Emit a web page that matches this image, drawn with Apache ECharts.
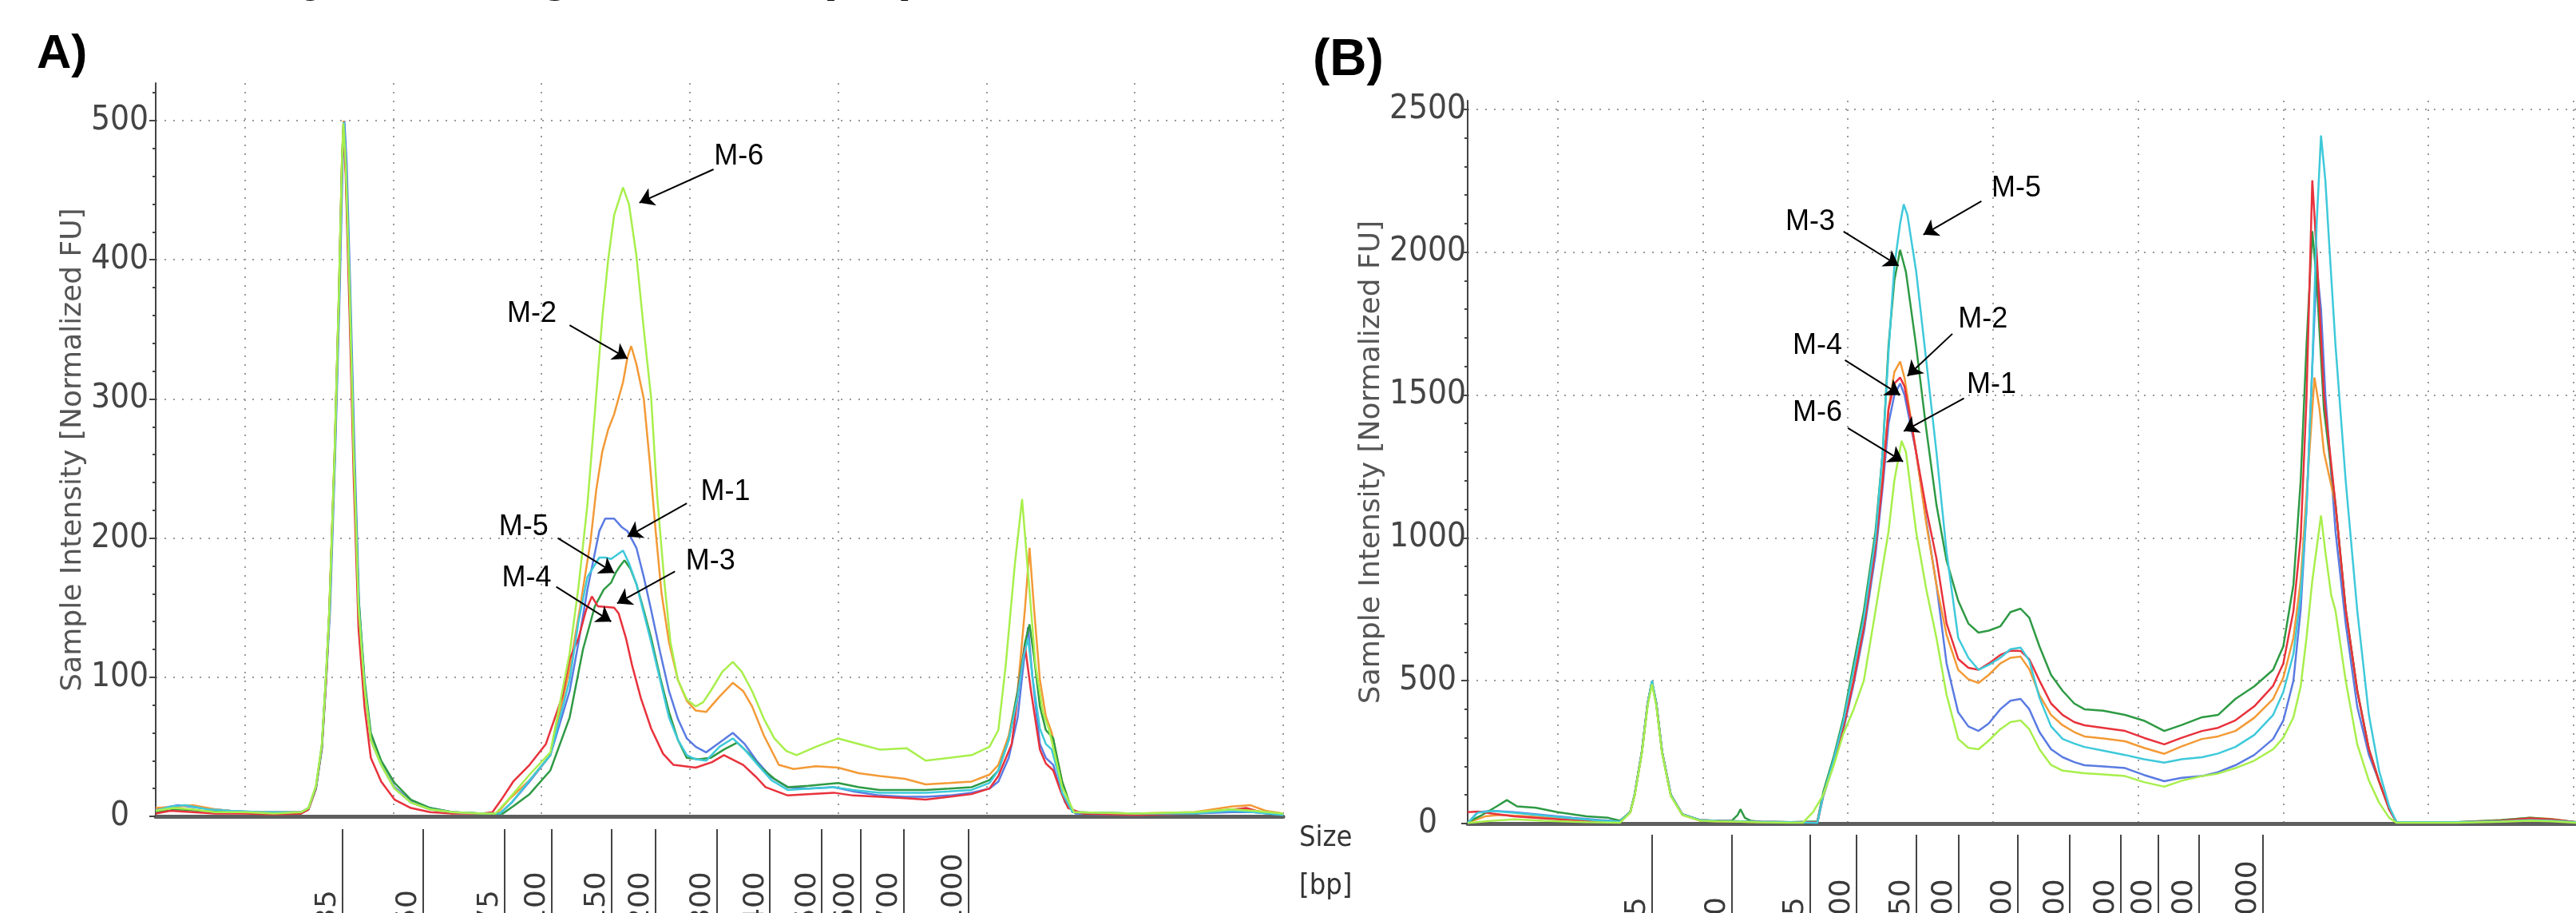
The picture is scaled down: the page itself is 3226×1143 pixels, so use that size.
<!DOCTYPE html>
<html>
<head>
<meta charset="utf-8">
<script src="https://cdn.jsdelivr.net/npm/echarts@6.0.0/dist/echarts.min.js"></script>
<style>
  html, body { margin: 0; padding: 0; background: #fff; }
  #main { width: 3226px; height: 1143px; }
</style>
</head>
<body>
<div id="main"></div>
<script>
// sample names, same order in both panels
const sampleNames = ['M-1', 'M-2', 'M-3', 'M-4', 'M-5', 'M-6']

// ladder (size standard) positions on the time axis and their sizes in bp
const ladderSizes = ['35', '50', '75', '100', '150', '200', '300', '400', '500', '600', '700', '1000']
const ladderA = [26.6, 32.0, 37.5, 40.7, 44.7, 47.7, 51.8, 55.4, 58.9, 61.5, 64.4, 68.8]
const ladderB = [26.5, 32.0, 37.4, 40.6, 44.7, 47.6, 51.7, 55.3, 58.8, 61.4, 64.2, 68.6]

// grid ticks
const timeTicks = [20, 30, 40, 50, 60, 70, 80, 90]
const yTicksA = [0, 100, 200, 300, 400, 500]
const yMinorA = [20, 40, 60, 80, 120, 140, 160, 180, 220, 240, 260, 280, 320, 340, 360, 380, 420, 440, 460, 480, 520]
const yTicksB = [0, 500, 1000, 1500, 2000, 2500]
const yMinorB = [100, 200, 300, 400, 600, 700, 800, 900, 1100, 1200, 1300, 1400, 1600, 1700, 1800, 1900, 2100, 2200, 2300, 2400]

// panel A traces [time, FU]
const m1A = [[14, 5], [15.5, 8], [17, 6], [19, 4], [21, 3], [23.8, 3], [24.3, 6], [24.8, 20], [25.2, 48], [25.5, 100], [25.75, 148], [26.1, 262], [26.4, 377], [26.6, 470], [26.72, 500], [26.87, 470], [27.12, 377], [27.4, 262], [27.72, 150], [28.1, 92], [28.5, 56], [29.2, 38], [30.1, 21], [31.2, 11], [32.5, 6], [34, 3], [36, 2],
  [37.2, 2], [38, 10], [39.2, 25], [40.6, 44], [41.9, 90], [42.5, 125], [43.1, 163], [43.9, 205], [44.3, 214], [44.9, 214], [45.4, 208], [45.8, 205], [46.4, 193], [46.9, 172], [47.4, 148], [48.0, 118], [48.6, 90], [49.2, 70], [49.8, 56], [50.4, 50], [51.1, 46], [52.0, 53], [52.9, 60], [53.7, 52], [54.5, 40], [55.5, 28], [56.6, 21], [58, 20], [59.7, 21], [61, 18], [62.8, 15], [64.5, 14], [65.9, 14], [67.5, 15], [69.0, 17], [70.2, 20], [70.8, 25], [71.5, 42], [72.1, 71], [72.5, 110], [72.8, 136], [73.1, 100], [73.6, 52], [74.0, 42], [74.5, 37], [74.9, 22], [75.3, 10], [76, 2], [80, 1], [84, 2], [86.5, 3], [88, 3], [90, 1]]
const m2A = [[14, 6], [15.5, 7], [16.5, 8], [18, 5], [20, 3], [22, 3], [23.8, 3], [24.3, 6], [24.8, 21], [25.2, 50], [25.5, 104], [25.7, 148], [26.06, 262], [26.35, 377], [26.55, 470], [26.66, 500], [26.8, 470], [27.07, 377], [27.34, 262], [27.67, 150], [28.08, 92], [28.5, 55], [29.2, 37], [30.1, 20], [31.2, 10], [32.5, 5], [34, 3], [36, 2],
  [37, 2], [37.8, 12], [39.2, 26], [40.6, 44], [41.9, 106], [42.6, 150], [43.3, 197], [43.7, 235], [44.1, 262], [44.5, 278], [44.9, 289], [45.5, 312], [45.8, 330], [46.05, 338], [46.4, 325], [46.9, 300], [47.3, 255], [47.7, 205], [48.1, 160], [48.6, 125], [49.2, 98], [49.8, 83], [50.4, 76], [51.1, 75], [52.0, 86], [52.9, 96], [53.6, 90], [54.2, 79], [55.0, 58], [56.0, 37], [57, 34], [58.5, 36], [60.0, 35], [61.4, 31], [62.8, 29], [64.5, 27], [65.9, 23], [67.5, 24], [69.0, 25], [70.2, 30], [70.8, 37], [71.5, 58], [72.1, 90], [72.6, 150], [72.9, 193], [73.2, 150], [73.6, 98], [74.0, 72], [74.4, 60], [74.8, 40], [75.1, 25], [75.8, 3], [80, 2], [84, 3], [86.5, 7], [87.8, 8], [88.8, 4], [90, 2]]
const m3A = [[14, 3], [15.5, 5], [17, 4], [19, 3], [21, 2], [23.8, 2], [24.3, 5], [24.8, 20], [25.2, 50], [25.5, 103], [25.7, 146], [26.06, 260], [26.35, 375], [26.55, 468], [26.65, 497], [26.8, 470], [27.07, 380], [27.34, 268], [27.67, 158], [28.08, 98], [28.5, 60], [29.2, 40], [30.1, 24], [31.2, 12], [32.5, 6], [34, 3], [36, 2],
  [37.4, 2], [38.2, 8], [39.2, 16], [40.6, 33], [41.9, 71], [42.8, 120], [43.6, 151], [44.2, 163], [44.7, 168], [45.0, 175], [45.3, 180], [45.6, 184], [46.0, 178], [46.4, 167], [46.9, 148], [47.4, 128], [48.0, 100], [48.6, 75], [49.2, 55], [49.8, 42], [50.6, 41], [51.4, 42], [52.3, 48], [53.2, 53], [54.0, 45], [54.8, 35], [55.7, 27], [56.6, 21], [58, 22], [60, 24], [61.4, 21], [62.8, 19], [64.5, 19], [65.9, 19], [67.5, 20], [69.0, 21], [70.2, 26], [70.8, 33], [71.5, 55], [72.1, 90], [72.6, 125], [72.9, 138], [73.2, 115], [73.6, 79], [74.0, 62], [74.5, 56], [74.8, 40], [75.1, 25], [75.8, 3], [80, 2], [84, 2], [86.5, 5], [88, 4], [90, 1]]
const m4A = [[14, 2], [15, 4], [16.5, 3], [18, 2], [20, 2], [22, 1.5], [23.8, 2], [24.3, 5], [24.8, 20], [25.2, 50], [25.5, 100], [25.7, 145], [26.06, 258], [26.35, 372], [26.55, 465], [26.65, 493], [26.8, 462], [27.07, 360], [27.34, 245], [27.67, 135], [28.08, 78], [28.5, 42], [29.2, 25], [30.1, 12], [31.2, 6], [32.5, 3], [34, 2], [36, 2],
  [36.7, 3], [37.3, 12], [38.1, 25], [39.2, 37], [40.3, 52], [41.4, 86], [41.9, 113], [42.5, 128], [43.0, 148], [43.4, 158], [43.8, 151], [44.9, 150], [45.2, 146], [45.7, 128], [46.1, 109], [46.7, 85], [47.4, 63], [48.2, 45], [48.9, 37], [50.4, 35], [51.5, 39], [52.3, 44], [53.6, 37], [54.5, 28], [55.1, 21], [56.6, 15], [58, 16], [59.7, 17], [61, 15], [62.8, 14], [64.5, 13], [65.9, 12], [67.5, 14], [69.0, 16], [70.2, 20], [70.8, 29], [71.7, 52], [72.2, 95], [72.6, 122], [73.0, 90], [73.6, 48], [74.0, 38], [74.5, 33], [75.0, 18], [75.5, 6], [76.5, 2], [80, 1], [84, 2], [86, 4], [87.5, 6], [88.5, 3], [90, 2]]
const m5A = [[14, 4], [15, 7], [16, 8], [17.5, 5], [19, 4], [21, 3], [23.8, 3], [24.3, 6], [24.8, 21], [25.2, 51], [25.5, 104], [25.72, 148], [26.08, 262], [26.37, 377], [26.57, 470], [26.68, 499], [26.82, 470], [27.09, 377], [27.36, 262], [27.69, 150], [28.1, 92], [28.5, 55], [29.2, 37], [30.1, 20], [31.2, 10], [32.5, 5], [34, 3], [36, 2],
  [37.2, 2], [38, 10], [39.2, 26], [40.6, 44], [41.9, 98], [42.5, 140], [43.1, 172], [43.9, 186], [44.3, 186], [44.7, 185], [45.1, 188], [45.5, 191], [45.9, 182], [46.4, 167], [46.9, 146], [47.4, 125], [48.0, 98], [48.6, 71], [49.2, 55], [49.8, 44], [50.4, 41], [51.1, 40], [52.0, 50], [52.9, 56], [53.7, 48], [54.5, 38], [55.5, 26], [56.6, 19], [58, 20], [59.7, 21], [61, 19], [62.8, 17], [64.5, 17], [65.9, 17], [67.5, 18], [69.0, 19], [70.2, 24], [70.8, 33], [71.5, 55], [72.1, 86], [72.5, 115], [72.8, 128], [73.1, 100], [73.6, 63], [74.0, 52], [74.4, 48], [74.8, 32], [75.1, 17], [75.8, 3], [80, 2], [84, 2], [86.5, 4], [88, 3], [90, 1]]
const m6A = [[14, 4], [15.2, 6], [16.5, 5], [18, 3], [20, 3], [22, 2], [23.8, 3], [24.3, 6], [24.8, 22], [25.2, 52], [25.5, 105], [25.7, 148], [26.06, 262], [26.35, 377], [26.55, 470], [26.65, 498], [26.8, 470], [27.07, 377], [27.34, 262], [27.67, 150], [28.08, 92], [28.5, 55], [29.2, 37], [30.1, 20], [31.2, 10], [32.5, 5], [34, 3], [36, 2],
  [36.9, 2], [37.6, 10], [39.2, 30], [40.6, 46], [41.9, 117], [42.5, 165], [43.1, 224], [43.6, 290], [44.1, 358], [44.5, 400], [44.9, 432], [45.5, 452], [45.9, 440], [46.4, 403], [46.9, 350], [47.4, 300], [47.8, 230], [48.3, 167], [48.7, 125], [49.2, 98], [49.8, 84], [50.4, 79], [50.9, 82], [51.4, 90], [52.2, 104], [52.9, 111], [53.5, 104], [54.2, 90], [55.0, 70], [55.7, 56], [56.5, 47], [57.2, 44], [58.5, 50], [60.0, 56], [61.4, 52], [62.8, 48], [64.6, 49], [65.9, 40], [67.5, 42], [69.0, 44], [70.2, 50], [70.8, 62], [71.3, 109], [71.9, 180], [72.4, 228], [72.8, 175], [73.3, 109], [73.8, 75], [74.2, 63], [74.7, 40], [75.1, 21], [75.9, 3], [80, 2], [84, 3], [86.5, 5], [88, 4], [90, 2]]

// panel B traces [time, FU]
const m1B = [[13.8, 2], [14.5, 40], [15.5, 45], [17, 40], [19, 30], [21, 20], [23, 12], [24.3, 8], [25.0, 40], [25.3, 100], [25.8, 250], [26.2, 420], [26.5, 497], [26.8, 420], [27.2, 250], [27.8, 100], [28.6, 32], [29.8, 12], [31, 10], [32.6, 8], [34, 6], [36, 5],
  [37.9, 3], [38.3, 95], [39.0, 205], [39.7, 330], [40.4, 490], [41.1, 670], [41.9, 940], [42.4, 1180], [42.8, 1400], [43.2, 1500], [43.6, 1540], [43.9, 1500], [44.3, 1400], [44.7, 1300], [45.4, 1060], [46.1, 836], [46.8, 560], [47.6, 389], [48.3, 340], [49.0, 324], [49.7, 350], [50.5, 400], [51.2, 430], [51.9, 436], [52.5, 400], [53.2, 320], [54.0, 260], [54.8, 232], [55.6, 215], [56.3, 204], [57.6, 200], [59.1, 194], [60.4, 170], [61.8, 148], [63.0, 160], [64.4, 166], [65.5, 180], [66.7, 204], [68.0, 240], [69.3, 296], [70.0, 360], [70.7, 500], [71.2, 750], [71.6, 1100], [72.0, 1600], [72.3, 1952], [72.6, 1800], [72.9, 1500], [73.6, 1022], [74.3, 700], [75.1, 408], [75.9, 240], [76.6, 148], [77.3, 50], [77.8, 5], [82, 4], [85, 8], [87, 12], [88.5, 10], [90.2, 4]]
const m2B = [[13.8, 3], [15, 25], [16, 30], [18, 25], [20, 18], [22, 10], [24.3, 5], [25.0, 38], [25.3, 98], [25.8, 248], [26.2, 418], [26.5, 495], [26.8, 418], [27.2, 248], [27.8, 98], [28.6, 30], [29.8, 10], [31, 8], [32.6, 6], [34, 5], [36, 4],
  [37.9, 5], [38.3, 100], [39.0, 215], [39.7, 345], [40.4, 505], [41.1, 690], [41.9, 970], [42.4, 1220], [42.8, 1451], [43.2, 1580], [43.6, 1617], [43.9, 1560], [44.3, 1430], [44.7, 1300], [45.4, 1050], [46.1, 836], [46.8, 660], [47.6, 538], [48.3, 505], [49.0, 492], [49.7, 520], [50.5, 560], [51.2, 580], [51.9, 584], [52.5, 540], [53.2, 450], [54.0, 380], [54.8, 344], [55.6, 320], [56.3, 305], [57.6, 298], [59.1, 288], [60.4, 265], [61.8, 244], [63.0, 270], [64.4, 296], [65.5, 305], [66.7, 324], [68.0, 370], [69.3, 436], [70.0, 510], [70.7, 650], [71.2, 850], [71.6, 1150], [72.15, 1561], [72.5, 1450], [72.8, 1300], [73.6, 1116], [74.3, 750], [75.1, 464], [75.9, 260], [76.6, 148], [77.3, 50], [77.8, 5], [82, 5], [85, 12], [87, 20], [88.5, 16], [90.2, 5]]
const m3B = [[13.8, 5], [14.8, 30], [15.8, 60], [16.5, 82], [17.2, 60], [18.5, 55], [20, 40], [22, 25], [23.5, 20], [24.3, 10], [25.0, 40], [25.3, 100], [25.8, 250], [26.2, 420], [26.5, 496], [26.8, 420], [27.2, 250], [27.8, 100], [28.6, 32], [29.8, 12], [31, 10], [32.0, 10], [32.4, 30], [32.6, 50], [32.9, 20], [33.3, 10], [34, 6], [36, 5],
  [37.9, 8], [38.3, 110], [39.0, 230], [39.7, 372], [40.4, 560], [41.1, 744], [41.9, 1022], [42.4, 1300], [42.8, 1672], [43.2, 1900], [43.6, 2008], [44.0, 1930], [44.7, 1672], [45.4, 1380], [46.1, 1116], [46.8, 920], [47.6, 780], [48.3, 700], [49.0, 668], [49.7, 675], [50.5, 690], [51.2, 740], [51.9, 752], [52.5, 720], [53.2, 620], [54.0, 520], [54.8, 464], [55.6, 420], [56.3, 400], [57.6, 395], [59.1, 380], [60.4, 360], [61.8, 324], [63.0, 345], [64.4, 372], [65.5, 380], [66.7, 436], [68.0, 480], [69.3, 538], [70.0, 620], [70.7, 836], [71.2, 1200], [71.6, 1672], [72.0, 2073], [72.3, 1900], [72.8, 1450], [73.6, 1116], [74.3, 750], [75.1, 464], [75.9, 260], [76.6, 148], [77.3, 50], [77.8, 5], [82, 5], [85, 12], [87, 20], [88.5, 15], [90.2, 5]]
const m4B = [[13.8, 40], [14.5, 42], [15.5, 35], [17, 25], [19, 18], [21, 12], [23, 8], [24.3, 6], [25.0, 40], [25.3, 100], [25.8, 250], [26.2, 420], [26.5, 495], [26.8, 420], [27.2, 250], [27.8, 100], [28.6, 32], [29.8, 12], [31, 10], [32.6, 8], [34, 6], [36, 5],
  [37.9, 5], [38.3, 100], [39.0, 210], [39.7, 340], [40.4, 500], [41.1, 688], [41.9, 967], [42.4, 1200], [42.8, 1451], [43.2, 1540], [43.6, 1561], [43.9, 1530], [44.3, 1420], [44.7, 1300], [45.4, 1100], [46.1, 928], [46.8, 700], [47.6, 576], [48.3, 545], [49.0, 538], [49.7, 560], [50.5, 590], [51.2, 605], [51.9, 604], [52.5, 575], [53.2, 500], [54.0, 420], [54.8, 380], [55.6, 355], [56.3, 344], [57.6, 335], [59.1, 324], [60.4, 300], [61.8, 277], [63.0, 300], [64.4, 324], [65.5, 335], [66.7, 361], [68.0, 410], [69.3, 482], [70.0, 560], [70.7, 744], [71.2, 1000], [71.6, 1488], [72.0, 2251], [72.3, 2000], [72.8, 1500], [73.6, 1116], [74.3, 750], [75.1, 464], [75.9, 260], [76.6, 148], [77.3, 50], [77.8, 5], [82, 4], [85, 10], [87, 18], [88.5, 14], [90.2, 5]]
const m5B = [[13.8, 2], [14.5, 38], [15.5, 44], [17, 38], [19, 28], [21, 18], [23, 10], [24.3, 7], [25.0, 40], [25.3, 100], [25.8, 250], [26.2, 420], [26.5, 500], [26.8, 420], [27.2, 250], [27.8, 100], [28.6, 32], [29.8, 12], [31, 10], [32.6, 8], [34, 6], [36, 5],
  [37.9, 3], [38.3, 100], [39.0, 220], [39.7, 360], [40.4, 540], [41.1, 720], [41.9, 1000], [42.4, 1300], [42.8, 1650], [43.2, 1950], [43.6, 2100], [43.85, 2167], [44.1, 2130], [44.7, 1934], [45.4, 1620], [46.1, 1300], [46.8, 950], [47.6, 650], [48.3, 580], [49.0, 538], [49.7, 555], [50.5, 580], [51.2, 610], [51.9, 616], [52.5, 570], [53.2, 440], [54.0, 340], [54.8, 296], [55.6, 280], [56.3, 268], [57.6, 255], [59.1, 240], [60.4, 225], [61.8, 213], [63.0, 225], [64.4, 232], [65.5, 245], [66.7, 268], [68.0, 310], [69.3, 380], [70.0, 460], [70.7, 594], [71.2, 800], [71.6, 1100], [72.0, 1600], [72.3, 2100], [72.6, 2408], [72.9, 2250], [73.2, 2000], [73.6, 1672], [74.3, 1200], [75.1, 744], [75.9, 380], [76.6, 185], [77.3, 60], [77.8, 5], [82, 5], [85, 8], [87, 12], [88.5, 10], [90.2, 5]]
const m6B = [[13.8, 2], [15.5, 10], [17, 15], [19, 10], [22, 5], [24.3, 3], [25.0, 38], [25.3, 96], [25.8, 245], [26.2, 412], [26.5, 488], [26.8, 412], [27.2, 245], [27.8, 96], [28.6, 30], [29.8, 10], [31, 8], [32.6, 6], [34, 4], [36, 3],
  [36.9, 3], [37.6, 40], [38.3, 100], [39.0, 200], [39.7, 316], [40.4, 400], [41.1, 500], [41.9, 744], [42.4, 900], [42.8, 1022], [43.2, 1200], [43.7, 1339], [44.0, 1300], [44.7, 1022], [45.4, 820], [46.1, 650], [46.8, 450], [47.6, 296], [48.3, 265], [49.0, 260], [49.7, 290], [50.5, 330], [51.2, 355], [51.9, 361], [52.5, 330], [53.2, 260], [54.0, 205], [54.8, 185], [55.6, 180], [56.3, 176], [57.6, 172], [59.1, 166], [60.4, 145], [61.8, 129], [63.0, 150], [64.4, 166], [65.5, 175], [66.7, 194], [68.0, 220], [69.3, 260], [70.0, 300], [70.7, 372], [71.2, 480], [71.6, 650], [72.0, 850], [72.6, 1078], [72.9, 950], [73.3, 800], [73.6, 744], [74.3, 500], [75.1, 277], [75.9, 150], [76.6, 73], [77.3, 20], [77.8, 3], [82, 3], [85, 6], [87, 10], [88.5, 8], [90.2, 3]]

// peak call-outs: label centre, arrow start, arrow tip (time, FU)
const notesA = [
  { name: 'M-6', text: [53.3, 474], from: [51.6, 465], to: [46.6, 441] },
  { name: 'M-2', text: [39.35, 361], from: [41.9, 353], to: [45.8, 329] },
  { name: 'M-5', text: [38.8, 208], from: [41.1, 200], to: [44.9, 175] },
  { name: 'M-4', text: [39.0, 171], from: [41.0, 165], to: [44.7, 140] },
  { name: 'M-1', text: [52.4, 233], from: [49.8, 225], to: [45.8, 201] },
  { name: 'M-3', text: [51.4, 183], from: [49.0, 176], to: [45.1, 153] }
]
const notesB = [
  { name: 'M-3', text: [37.4, 2106], from: [39.7, 2072], to: [43.5, 1952] },
  { name: 'M-5', text: [51.6, 2223], from: [49.2, 2178], to: [45.2, 2061] },
  { name: 'M-2', text: [49.3, 1764], from: [47.2, 1714], to: [44.1, 1566] },
  { name: 'M-4', text: [37.9, 1672], from: [39.8, 1622], to: [43.6, 1500] },
  { name: 'M-1', text: [49.9, 1535], from: [48.0, 1488], to: [43.85, 1373] },
  { name: 'M-6', text: [37.9, 1437], from: [40.0, 1384], to: [43.8, 1267] }
]

const sampleColors = ['#5a7be2', '#f39a36', '#2e9a44', '#e8323c', '#3ec9da', '#a8ef4c']
const narrowFont = '"Liberation Sans Narrow", "DejaVu Sans Condensed", "Liberation Sans", sans-serif'
const gridDots = { type: [2, 9], color: '#9a9a9a', width: 2 }

function ladderLabel(list) {
  return function(v) {
    let best = 0
    for (let i = 0; i < list.length; i++) {
      if (Math.abs(list[i] - v) < Math.abs(list[best] - v)) best = i
    }
    return ladderSizes[best]
  }
}

function timeAxes(grid, min, max, ladder, ladderOffset) {
  return [
    {
      gridIndex: grid, type: 'value', min: min, max: max,
      axisLine: { onZero: false, lineStyle: { color: '#5e5e5e', width: 5 } },
      axisTick: { show: false, customValues: timeTicks },
      axisLabel: { show: false },
      splitLine: { show: true, lineStyle: gridDots }
    },
    {
      gridIndex: grid, type: 'value', min: min, max: max, position: 'bottom', offset: ladderOffset,
      axisLine: { show: false, onZero: false },
      axisTick: { show: true, customValues: ladder, length: 130, lineStyle: { color: '#444', width: 2 } },
      axisLabel: {
        show: true, customValues: ladder, rotate: 90, align: 'left', verticalAlign: 'bottom',
        margin: 122 - ladderOffset + 16, formatter: ladderLabel(ladder),
        fontSize: 36, color: '#3a3a3a', fontFamily: '"DejaVu Sans", sans-serif'
      },
      splitLine: { show: false }
    }
  ]
}

function intensityAxes(grid, max, ticks, minor, labelMargin, nameGap) {
  return [
    {
      gridIndex: grid, type: 'value', min: 0, max: max, position: 'left',
      name: 'Sample Intensity [Normalized FU]', nameLocation: 'middle', nameGap: nameGap,
      nameTextStyle: { fontSize: 36, color: '#555', fontFamily: '"DejaVu Sans", sans-serif' },
      axisLine: { onZero: false, lineStyle: { color: '#444', width: 2 } },
      axisTick: { customValues: ticks, length: 8, lineStyle: { color: '#444', width: 2 } },
      axisLabel: {
        customValues: ticks, align: 'center', margin: labelMargin, formatter: v => String(v),
        fontSize: 42, color: '#444', fontFamily: narrowFont
      },
      splitLine: { show: true, lineStyle: gridDots }
    },
    {
      gridIndex: grid, type: 'value', min: 0, max: max, position: 'left',
      axisLine: { show: false, onZero: false },
      axisTick: { customValues: minor, length: 4, lineStyle: { color: '#444', width: 2 } },
      axisLabel: { show: false },
      splitLine: { show: false }
    }
  ]
}

function panelSeries(xIdx, yIdx, traces, notes) {
  const out = traces.map((d, i) => ({
    name: sampleNames[i],
    type: 'line',
    xAxisIndex: xIdx,
    yAxisIndex: yIdx,
    data: d,
    symbol: 'none',
    showSymbol: false,
    lineStyle: { width: 2.5, color: sampleColors[i] },
    itemStyle: { color: sampleColors[i] },
    emphasis: { disabled: true },
    z: 2
  }))
  const last = out[out.length - 1]
  last.markLine = {
    silent: true,
    symbol: ['none', 'arrow'],
    symbolSize: 18,
    label: { show: false },
    lineStyle: { type: 'solid', color: '#000', width: 2 },
    emphasis: { disabled: true },
    data: notes.map(n => [{ coord: n.from }, { coord: n.to }])
  }
  last.markPoint = {
    silent: true,
    symbol: 'circle',
    symbolSize: 1,
    itemStyle: { color: 'rgba(0,0,0,0)' },
    label: {
      show: true, position: 'inside', formatter: p => p.name,
      color: '#000', fontSize: 36, fontFamily: '"Liberation Sans", Arial, sans-serif'
    },
    data: notes.map(n => ({ name: n.name, coord: n.text }))
  }
  return out
}

const chart = echarts.init(document.getElementById('main'))

chart.setOption({
  animation: false,
  backgroundColor: '#fff',
  grid: [
    { left: 195, top: 104, width: 1412, height: 918, containLabel: false, outerBoundsMode: 'none' },
    { left: 1838, top: 126, width: 1388, height: 905, containLabel: false, outerBoundsMode: 'none' }
  ],
  xAxis: [].concat(
    timeAxes(0, 14, 90, ladderA, 16),
    timeAxes(1, 13.8, 90.17, ladderB, 14)
  ),
  yAxis: [].concat(
    intensityAxes(0, 527, yTicksA, yMinorA, 45, 72),
    intensityAxes(1, 2530, yTicksB, yMinorB, 50, 78)
  ),
  graphic: [
    { type: 'text', left: 46, top: 38, style: { text: 'A)', font: 'bold 60px "Liberation Sans", Arial', fill: '#000' } },
    { type: 'text', left: 1644, top: 44, style: { text: '(B)', font: 'bold 64px "Liberation Sans", Arial', fill: '#000' } },
    { type: 'text', left: 1627, top: 1032, style: { text: 'Size', font: '36px ' + narrowFont, fill: '#333' } },
    { type: 'text', left: 1627, top: 1092, style: { text: '[bp]', font: '36px ' + narrowFont, fill: '#333' } },
    // bottoms of the cropped figure heading
    { type: 'text', left: 380, top: -62, style: { text: 'y', font: 'bold 64px "Liberation Sans", Arial', fill: '#000' } },
    { type: 'text', left: 676, top: -62, style: { text: 'g', font: 'bold 64px "Liberation Sans", Arial', fill: '#000' } },
    { type: 'text', left: 1024, top: -62, style: { text: '(', font: 'bold 64px "Liberation Sans", Arial', fill: '#000' } },
    { type: 'text', left: 1128, top: -62, style: { text: ')', font: 'bold 64px "Liberation Sans", Arial', fill: '#000' } }
  ],
  series: [].concat(
    panelSeries(0, 0, [m1A, m2A, m3A, m4A, m5A, m6A], notesA),
    panelSeries(2, 2, [m1B, m2B, m3B, m4B, m5B, m6B], notesB)
  )
})
</script>
</body>
</html>
